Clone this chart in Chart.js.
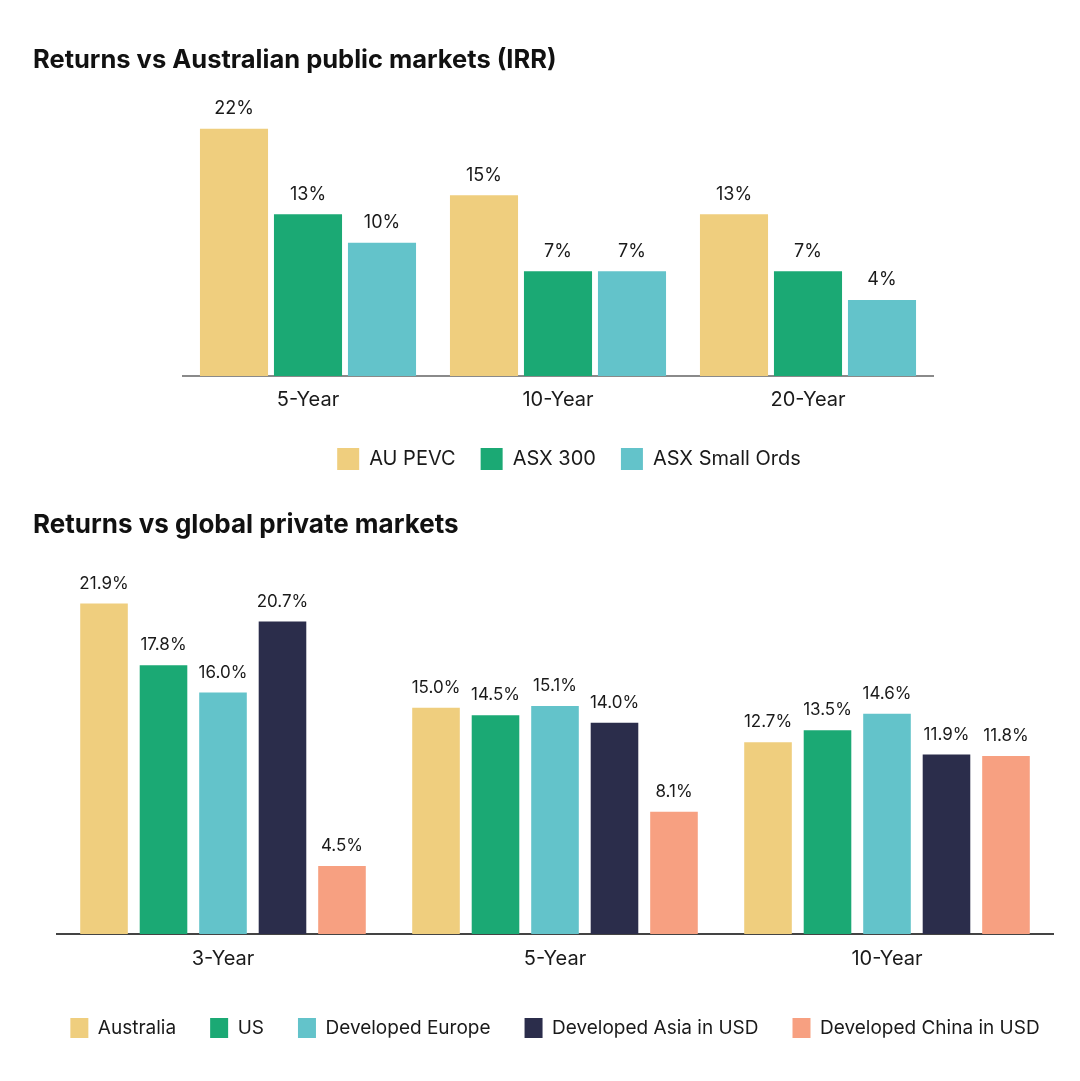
<!DOCTYPE html>
<html><head><meta charset="utf-8">
<script src="https://cdn.jsdelivr.net/npm/chart.js@4"></script>
<style>
html,body{margin:0;padding:0;background:#fff;overflow:hidden;width:1080px;height:1081px;}
canvas{position:absolute;left:0;}
#c1{top:0}
#c2{top:490px}
</style></head>
<body>
<canvas id="c1" width="1105" height="490"></canvas>
<canvas id="c2" width="1080" height="591"></canvas>
<script>
// ---- Data: top chart ----
const topTitle = 'Returns vs Australian public markets (IRR)';
const topCategories = ['5-Year', '10-Year', '20-Year'];
const topSeriesNames = ['AU PEVC', 'ASX 300', 'ASX Small Ords'];
const auPevc = [22, 15, 13];
const asx300 = [13, 7, 7];
const asxSmallOrds = [10, 7, 4];

// ---- Data: bottom chart ----
const bottomTitle = 'Returns vs global private markets';
const bottomCategories = ['3-Year', '5-Year', '10-Year'];
const bottomSeriesNames = ['Australia', 'US', 'Developed Europe', 'Developed Asia in USD', 'Developed China in USD'];
const australia = [21.9, 15.0, 12.7];
const us = [17.8, 14.5, 13.5];
const developedEurope = [16.0, 15.1, 14.6];
const developedAsia = [20.7, 14.0, 11.9];
const developedChina = [4.5, 8.1, 11.8];

const palette = ['#EFCE7E', '#1BA974', '#63C3CA', '#2B2D4B', '#F7A081'];
const FONT = 'Inter';
Chart.defaults.font.family = FONT;
Chart.defaults.color = '#1a1a1a';

const valueLabels = {
  id: 'valueLabels',
  afterDatasetsDraw(chart, args, opts) {
    const ctx = chart.ctx;
    ctx.save();
    ctx.font = opts.size + 'px ' + FONT;
    ctx.fillStyle = opts.color;
    ctx.textAlign = 'center';
    ctx.textBaseline = 'middle';
    chart.data.datasets.forEach((ds, i) => {
      const meta = chart.getDatasetMeta(i);
      meta.data.forEach((bar, j) => {
        ctx.fillText(Number(ds.data[j]).toFixed(opts.decimals) + '%', bar.x, bar.y - opts.offset);
      });
    });
    ctx.restore();
  }
};

const hiddenAxis = (pos, w) => ({
  type: 'linear', position: pos, display: true,
  grid: { display: false, drawTicks: false }, border: { display: false },
  ticks: { display: false },
  afterFit: s => { s.width = w; }
});

// ---- Top chart ----
const topSeries = [auPevc, asx300, asxSmallOrds];
const topMin = -4;
new Chart(document.getElementById('c1'), {
  type: 'bar',
  data: {
    labels: topCategories,
    datasets: topSeries.map((d, i) => ({
      label: topSeriesNames[i], data: d, backgroundColor: palette[i],
      borderWidth: 0, base: topMin, yAxisID: 'y',
      barPercentage: 0.92, categoryPercentage: 0.888
    }))
  },
  options: {
    responsive: false, animation: false,
    layout: { padding: { left: 33, right: 0, top: 0, bottom: 10 } },
    plugins: {
      title: { display: true, text: topTitle, align: 'start', color: '#111',
        font: { size: 25.5, weight: 'bold' }, padding: { top: 45, bottom: 15 } },
      legend: { position: 'bottom',
        labels: { boxWidth: 22, boxHeight: 22, padding: 25, color: '#1a1a1a', font: { size: 20 } } },
      tooltip: { enabled: false },
      valueLabels: { size: 18, color: '#1a1a1a', offset: 20, decimals: 0 }
    },
    scales: {
      x: { grid: { display: false, drawTicks: false },
        border: { display: true, color: '#8a8a8a', width: 2 },
        ticks: { padding: 10.5, color: '#1a1a1a', font: { size: 20, lineHeight: 1.3 } } },
      y: Object.assign(hiddenAxis('left', 150), { min: topMin, max: 26 }),
      yR: hiddenAxis('right', 172)
    }
  },
  plugins: [valueLabels]
});

// ---- Bottom chart ----
const bottomSeries = [australia, us, developedEurope, developedAsia, developedChina];
new Chart(document.getElementById('c2'), {
  type: 'bar',
  data: {
    labels: bottomCategories,
    datasets: bottomSeries.map((d, i) => ({
      label: bottomSeriesNames[i], data: d, backgroundColor: palette[i],
      borderWidth: 0, yAxisID: 'y',
      barPercentage: 0.8, categoryPercentage: 0.896
    }))
  },
  options: {
    responsive: false, animation: false,
    layout: { padding: { left: 33, right: 3, top: 0, bottom: 33 } },
    plugins: {
      title: { display: true, text: bottomTitle, align: 'start', color: '#111',
        font: { size: 26, weight: 'bold' }, padding: { top: 20, bottom: 30.6 } },
      legend: { position: 'bottom',
        labels: { boxWidth: 18, boxHeight: 20, padding: 34, color: '#1a1a1a', font: { size: 19 } } },
      tooltip: { enabled: false },
      valueLabels: { size: 17, color: '#1a1a1a', offset: 20, decimals: 1 }
    },
    scales: {
      x: { grid: { display: false, drawTicks: false },
        border: { display: true, color: '#444', width: 2 },
        ticks: { padding: 12, color: '#1a1a1a', font: { size: 20, lineHeight: 1.3 } } },
      y: Object.assign(hiddenAxis('left', 24), { min: 0, max: 24 }),
      yR: hiddenAxis('right', 24)
    }
  },
  plugins: [valueLabels]
});
</script>
</body></html>
